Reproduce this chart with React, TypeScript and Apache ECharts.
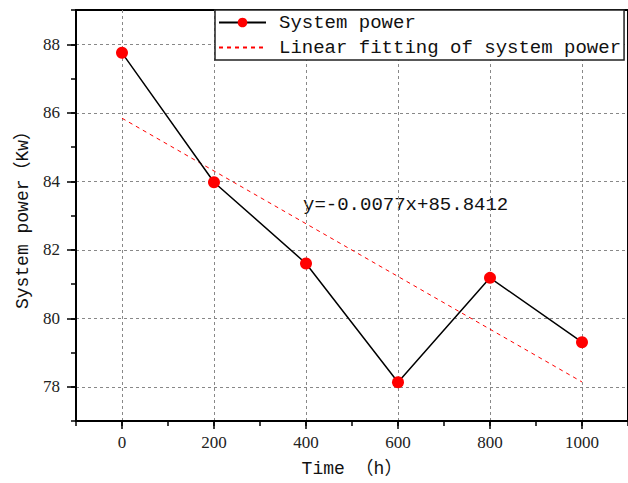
import React, { useEffect, useRef } from "react";
import * as echarts from "echarts";

const timeH = [0, 200, 400, 600, 800, 1000];
const powerKw = [87.75, 83.97, 81.6, 78.13, 81.18, 79.3];
const fitX = [0, 1000];
const fitY = [85.84, 78.14];
const xLabels = [0, 200, 400, 600, 800, 1000];
const yLabels = [78, 80, 82, 84, 86, 88];
const equation = "y=-0.0077x+85.8412";

const FONT = "'Liberation Mono', 'Noto Sans CJK SC', monospace";
const NUMFONT = "'Liberation Serif', serif";

export default function App() {
  const ref = useRef<HTMLDivElement>(null);
  useEffect(() => {
    if (!ref.current) return;
    const chart = echarts.init(ref.current, undefined, { renderer: "svg" });
    chart.setOption({
      animation: false,
      backgroundColor: "#fff",
      grid: {
        left: 76,
        top: 10,
        right: -3,
        bottom: 59,
        containLabel: false,
        show: true,
        borderColor: "#000",
        borderWidth: 2,
        backgroundColor: "rgba(0,0,0,0)",
      },
      legend: {
        orient: "vertical",
        left: 215,
        top: 10,
        padding: [3, 3, 3, 3],
        itemGap: 6,
        itemWidth: 47,
        itemHeight: 12,
        borderColor: "#222",
        borderWidth: 1.5,
        borderRadius: 0,
        backgroundColor: "#fff",
        textStyle: { fontFamily: FONT, fontSize: 19, color: "#111", padding: [0, 0, 0, 8] },
        data: [
          { name: "System power" },
          { name: "Linear fitting of system power", itemStyle: { color: "rgba(0,0,0,0)", borderWidth: 0 } },
        ],
      },
      xAxis: [
        {
          type: "value",
          min: -100,
          max: 1100,
          position: "bottom",
          name: "Time （h）",
          nameLocation: "middle",
          nameGap: 39,
          nameTextStyle: { fontFamily: FONT, fontSize: 18, color: "#111" },
          axisLine: { show: true, onZero: false, lineStyle: { color: "#000", width: 2 } },
          axisTick: { show: true, inside: false, length: 8, lineStyle: { color: "#000", width: 1.5 }, customValues: xLabels },
          axisLabel: { customValues: xLabels, formatter: (v: number) => String(v), fontFamily: NUMFONT, fontSize: 17, color: "#222", margin: 13 },
          splitLine: { show: true, lineStyle: { color: "#888", type: [3, 3], width: 1 } },
        },
        {
          type: "value",
          min: -100,
          max: 1100,
          interval: 100,
          position: "bottom",
          axisLine: { show: false, onZero: false },
          axisTick: { show: true, inside: false, length: 5, lineStyle: { color: "#000", width: 1.5 } },
          axisLabel: { show: false },
          splitLine: { show: false },
        },
      ],
      yAxis: [
        {
          type: "value",
          min: 77,
          max: 89,
          position: "left",
          name: "System power（Kw）",
          nameLocation: "middle",
          nameGap: 44,
          nameTextStyle: { fontFamily: FONT, fontSize: 18, color: "#111" },
          axisLine: { show: true, onZero: false, lineStyle: { color: "#000", width: 2 } },
          axisTick: { show: true, inside: false, length: 9, lineStyle: { color: "#000", width: 1.5 }, customValues: yLabels },
          axisLabel: { customValues: yLabels, fontFamily: NUMFONT, fontSize: 17, color: "#222", margin: 16 },
          splitLine: { show: true, lineStyle: { color: "#888", type: [3, 3], width: 1 } },
        },
        {
          type: "value",
          min: 77,
          max: 89,
          interval: 1,
          position: "left",
          axisLine: { show: false, onZero: false },
          axisTick: { show: true, inside: false, length: 5, lineStyle: { color: "#000", width: 1.5 } },
          axisLabel: { show: false },
          splitLine: { show: false },
        },
      ],
      series: [
        {
          name: "System power",
          type: "line",
          xAxisIndex: 0,
          yAxisIndex: 0,
          data: timeH.map((t, i) => [t, powerKw[i]]),
          symbol: "circle",
          symbolSize: 12,
          itemStyle: { color: "#ff0000" },
          lineStyle: { color: "#000", width: 1.5 },
          z: 3,
        },
        {
          name: "Linear fitting of system power",
          type: "line",
          xAxisIndex: 0,
          yAxisIndex: 0,
          data: fitX.map((t, i) => [t, fitY[i]]),
          symbol: "none",
          itemStyle: { color: "#ff0000" },
          lineStyle: { color: "#ff0000", width: 1, type: [4, 4] },
          z: 2,
        },
      ],
      graphic: [
        {
          type: "text",
          left: 303,
          top: 195,
          style: { text: equation, fontFamily: FONT, fontSize: 19, fill: "#111" },
        },
      ],
    });
    return () => chart.dispose();
  }, []);
  return <div ref={ref} style={{ width: 628, height: 483, position: "absolute", left: 0, top: 0 }} />;
}
